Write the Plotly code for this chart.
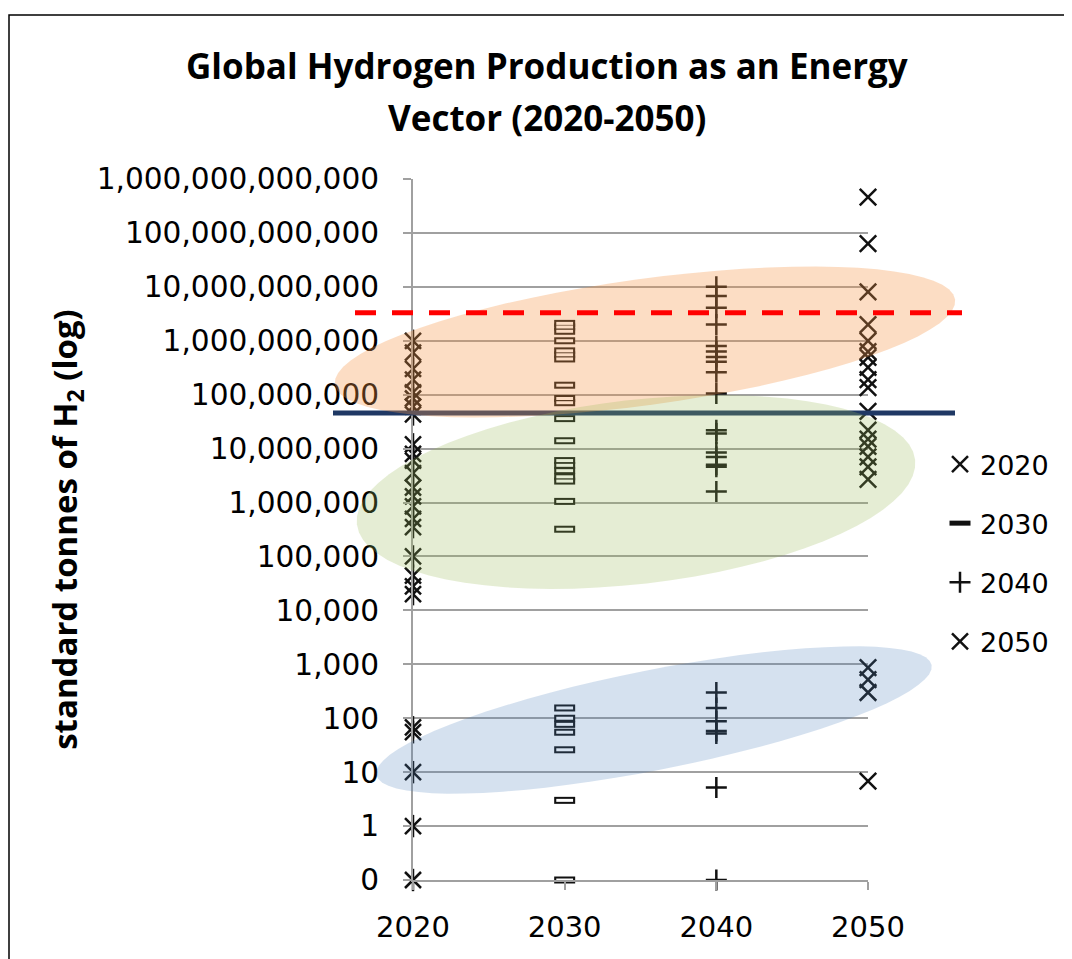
import numpy as np
import plotly.graph_objects as go

# figure size and plot box; box given in page pixels, the page body adds an 8 px margin
W, H = 1072, 959
OFF = 8
PX_L, PX_R, PX_T, PX_B = 413, 868, 179, 880

years = [2020, 2030, 2040, 2050]
year_labels = ["2020", "2030", "2040", "2050"]

# standard tonnes of H2 per scenario (0 plotted at the "0" row = 0.1 on the log axis)
v2020 = [1e9, 6e8, 3e8, 1.9e8, 1.1e8, 8.5e7, 6e7, 4.3e7,
         1.2e7, 8e6, 6e6, 3.5e6, 1.9e6, 1.3e6, 8.5e5, 5e5, 3.5e5,
         1e5, 4.4e4, 2.8e4, 2e4,
         68, 55, 10, 1, 0.1]
v2030 = [2.1e9, 1.8e9, 1.5e9, 1e9, 6.5e8, 5.5e8, 4.6e8, 1.5e8, 8.5e7, 7.1e7,
         3.6e7, 1.4e7, 6e6, 4.9e6, 3.9e6, 3e6, 2.5e6, 1.05e6, 3.2e5,
         155, 100, 77, 55, 26, 3, 0.1]
v2040 = [1e10, 6.8e9, 4.1e9, 2e9, 8e8, 6.3e8, 5e8, 4.1e8, 2.6e8, 1.05e8,
         2.2e7, 1.9e7, 8.5e6, 7e6, 5e6, 4.6e6, 1.6e6,
         300, 155, 88, 58, 52, 5.2, 0.1]
v2050 = [4.6e11, 6.3e10, 8.1e9, 2e9, 1e9, 6.3e8, 4.9e8, 3.2e8, 1.9e8, 1.35e8,
         4.9e7, 2.2e7, 1.5e7, 1.1e7, 7e6, 4.6e6, 2.7e6,
         870, 520, 300, 6.8]

tick_vals = [10.0 ** k for k in range(-1, 13)]
tick_text = ["0", "1", "10", "100", "1,000", "10,000", "100,000", "1,000,000",
             "10,000,000", "100,000,000", "1,000,000,000", "10,000,000,000",
             "100,000,000,000", "1,000,000,000,000"]

# reference lines (tonnes)
red_level = 3.3e9
blue_level = 4.6e7

Y_LO, Y_HI = -1, 12


def px_x(px):
    return (px - PX_L) / (PX_R - PX_L)


def px_y(py):
    return (PX_B - py) / (PX_B - PX_T)


def val_y(v):
    return (np.log10(v) - Y_LO) / (Y_HI - Y_LO)


def ellipse_path(cx, cy, a, b, ang_deg, n=72):
    t = np.linspace(0, 2 * np.pi, n, endpoint=False)
    ang = np.deg2rad(ang_deg)
    xs = cx + a * np.cos(t) * np.cos(ang) - b * np.sin(t) * np.sin(ang)
    ys = cy - (a * np.cos(t) * np.sin(ang) + b * np.sin(t) * np.cos(ang))
    pts = [f"{px_x(x):.4f},{px_y(y):.4f}" for x, y in zip(xs, ys)]
    return "M" + " L".join(pts) + " Z"


fig = go.Figure()

ink = "#111111"
common = dict(mode="markers", cliponaxis=False)

fig.add_trace(go.Scatter(
    x=[years[0]] * len(v2020), y=v2020, name="2020", legendgroup="2020",
    marker=dict(symbol="x-thin-open", size=16, color=ink, line=dict(width=2.5, color=ink)),
    **common))
fig.add_trace(go.Scatter(
    x=[years[0]] * len(v2020), y=v2020, name="2020", legendgroup="2020", showlegend=False,
    marker=dict(symbol="line-ns-open", size=16, color=ink, line=dict(width=2.5, color=ink)),
    **common))

fig.add_trace(go.Scatter(
    x=[years[1]] * len(v2030), y=v2030, name="2030", legendgroup="2030",
    marker=dict(symbol="line-ew-open", size=15, color=ink, line=dict(width=7, color=ink)),
    **common))
fig.add_trace(go.Scatter(
    x=[years[1]] * len(v2030), y=v2030, name="2030", legendgroup="2030", showlegend=False,
    marker=dict(symbol="line-ew-open", size=12, color="white", line=dict(width=3, color="white")),
    **common))

fig.add_trace(go.Scatter(
    x=[years[2]] * len(v2040), y=v2040, name="2040", legendgroup="2040",
    marker=dict(symbol="cross-thin-open", size=15, color=ink, line=dict(width=2.5, color=ink)),
    **common))

fig.add_trace(go.Scatter(
    x=[years[3]] * len(v2050), y=v2050, name="2050", legendgroup="2050",
    marker=dict(symbol="x-thin-open", size=16.5, color=ink, line=dict(width=2.5, color=ink)),
    **common))

# navy reference line (under the ellipses)
fig.add_shape(type="line", xref="paper", yref="paper",
              x0=px_x(333), x1=px_x(955), y0=val_y(blue_level), y1=val_y(blue_level),
              line=dict(color="#1f3864", width=5), layer="above")

# shaded groups
fig.add_shape(type="path", xref="paper", yref="paper",
              path=ellipse_path(645, 342, 313, 63, 7.8),
              fillcolor="rgba(247,150,70,0.32)", line=dict(width=0), layer="above")
fig.add_shape(type="path", xref="paper", yref="paper",
              path=ellipse_path(636, 492, 281, 92, 6.6),
              fillcolor="rgba(155,187,89,0.26)", line=dict(width=0), layer="above")
fig.add_shape(type="path", xref="paper", yref="paper",
              path=ellipse_path(654, 720, 283, 50, 11.2),
              fillcolor="rgba(79,129,189,0.24)", line=dict(width=0), layer="above")

# red dashed reference line
fig.add_shape(type="line", xref="paper", yref="paper",
              x0=px_x(355), x1=px_x(962), y0=val_y(red_level), y1=val_y(red_level),
              line=dict(color="#ff0000", width=5, dash="21px,16px"), layer="above")

# outer frame
fig.add_shape(type="rect", xref="paper", yref="paper",
              x0=px_x(9), x1=px_x(1090), y0=px_y(975), y1=px_y(15),
              line=dict(color="#000000", width=1.5), layer="below")

title_font = dict(family="Open Sans", size=35, color="black")
fig.add_annotation(xref="paper", yref="paper", x=px_x(547), y=px_y(65),
                   text="<b>Global Hydrogen Production as an Energy</b>",
                   showarrow=False, font=title_font, xanchor="center", yanchor="middle")
fig.add_annotation(xref="paper", yref="paper", x=px_x(547), y=px_y(117),
                   text="<b>Vector (2020-2050)</b>",
                   showarrow=False, font=title_font, xanchor="center", yanchor="middle")

fig.update_xaxes(
    range=[2020, 2050], tickvals=years, ticktext=year_labels,
    showgrid=False, zeroline=False, showline=True, linecolor="#a0a0a0", linewidth=2,
    ticks="outside", ticklen=8, tickcolor="#a0a0a0", tickwidth=2,
    tickfont=dict(family="DejaVu Sans", size=29, color="black"),
    ticklabelstandoff=12,
)
fig.update_yaxes(
    type="log", range=[Y_LO, Y_HI], tickvals=tick_vals, ticktext=tick_text,
    showgrid=True, gridcolor="#a0a0a0", gridwidth=2, zeroline=False,
    showline=True, linecolor="#a0a0a0", linewidth=2,
    ticks="outside", ticklen=8, tickcolor="#a0a0a0", tickwidth=2,
    tickfont=dict(family="DejaVu Sans", size=29.6, color="black"),
    ticklabelstandoff=18,
    title=dict(text="<b>standard tonnes of H<sub>2</sub> (log)</b>",
               font=dict(family="Open Sans", size=33, color="black"), standoff=9),
)
fig.update_layout(
    width=W, height=H,
    margin=dict(l=PX_L - OFF, r=W - PX_R + OFF, t=PX_T - OFF, b=H - PX_B + OFF,
                autoexpand=False),
    plot_bgcolor="white", paper_bgcolor="white",
    showlegend=True,
    legend=dict(x=px_x(940), y=px_y(440), xanchor="left", yanchor="top",
                font=dict(family="DejaVu Sans", size=27, color="black"),
                bgcolor="rgba(0,0,0,0)", tracegroupgap=21, itemwidth=30),
)

fig.write_html("out.html")
